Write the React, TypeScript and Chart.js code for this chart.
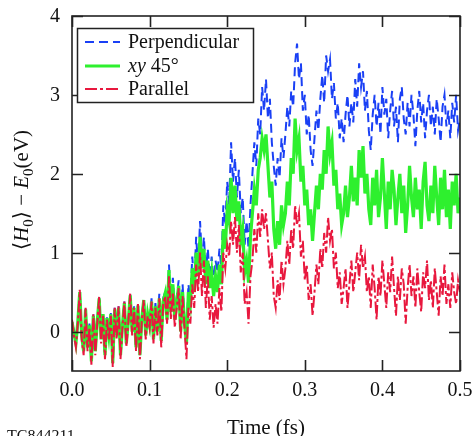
import React, { useEffect, useRef } from "react";
import { Chart, registerables } from "chart.js";

Chart.register(...registerables);

// ---------- data ----------
const TIMES = [
  0, 0.0025, 0.005, 0.0075, 0.01, 0.0125, 0.015, 0.0175, 0.02, 0.0225,
  0.025, 0.0275, 0.03, 0.0325, 0.035, 0.0375, 0.04, 0.0425, 0.045, 0.0475,
  0.05, 0.0525, 0.055, 0.0575, 0.06, 0.0625, 0.065, 0.0675, 0.07, 0.0725,
  0.075, 0.0775, 0.08, 0.0825, 0.085, 0.0875, 0.09, 0.0925, 0.095, 0.0975,
  0.1, 0.1025, 0.105, 0.1075, 0.11, 0.1125, 0.115, 0.1175, 0.12, 0.1225,
  0.125, 0.1275, 0.13, 0.1325, 0.135, 0.1375, 0.14, 0.1425, 0.145, 0.1475,
  0.15, 0.1525, 0.155, 0.1575, 0.16, 0.1625, 0.165, 0.1675, 0.17, 0.1725,
  0.175, 0.1775, 0.18, 0.1825, 0.185, 0.1875, 0.19, 0.1925, 0.195, 0.1975,
  0.2, 0.2025, 0.205, 0.2075, 0.21, 0.2125, 0.215, 0.2175, 0.22, 0.2225,
  0.225, 0.2275, 0.23, 0.2325, 0.235, 0.2375, 0.24, 0.2425, 0.245, 0.2475,
  0.25, 0.2525, 0.255, 0.2575, 0.26, 0.2625, 0.265, 0.2675, 0.27, 0.2725,
  0.275, 0.2775, 0.28, 0.2825, 0.285, 0.2875, 0.29, 0.2925, 0.295, 0.2975,
  0.3, 0.3025, 0.305, 0.3075, 0.31, 0.3125, 0.315, 0.3175, 0.32, 0.3225,
  0.325, 0.3275, 0.33, 0.3325, 0.335, 0.3375, 0.34, 0.3425, 0.345, 0.3475,
  0.35, 0.3525, 0.355, 0.3575, 0.36, 0.3625, 0.365, 0.3675, 0.37, 0.3725,
  0.375, 0.3775, 0.38, 0.3825, 0.385, 0.3875, 0.39, 0.3925, 0.395, 0.3975,
  0.4, 0.4025, 0.405, 0.4075, 0.41, 0.4125, 0.415, 0.4175, 0.42, 0.4225,
  0.425, 0.4275, 0.43, 0.4325, 0.435, 0.4375, 0.44, 0.4425, 0.445, 0.4475,
  0.45, 0.4525, 0.455, 0.4575, 0.46, 0.4625, 0.465, 0.4675, 0.47, 0.4725,
  0.475, 0.4775, 0.48, 0.4825, 0.485, 0.4875, 0.49, 0.4925, 0.495, 0.4975,
  0.5,
];

const PERPENDICULAR = [
  0.13, 0.0, -0.12, 0.14, 0.5, -0.02, -0.22, 0.3, -0.18, 0.1,
  -0.35, 0.22, -0.22, 0.14, 0.43, -0.08, 0.24, -0.28, 0.18, -0.02,
  0.24, -0.38, 0.3, -0.02, 0.32, -0.28, 0.1, 0.38, -0.12, 0.14,
  0.47, 0.02, 0.32, -0.18, 0.35, -0.28, 0.19, 0.42, -0.02, 0.24,
  0.1, 0.42, -0.05, 0.36, 0.05, 0.48, -0.05, 0.42,
  0.5, 0.2, 0.85, 0.3, 0.68, 0.2, 0.45, 0.65, 0.05, 0.6, 0.15, -0.1, 0.6, 0.4,
  0.95, 0.6, 1.2, 0.8, 1.4, 0.9, 1.2, 0.75, 1.05, 0.7, 0.95, 0.6, 0.9, 0.75, 1.05, 0.8, 1.6, 1.35, 1.9,
  1.6, 2.4, 1.9, 2.2, 1.7, 2.05, 1.5, 1.7, 1.1, 1.4, 1.05, 1.6, 2.0, 2.4, 2.1, 2.7, 2.5, 3.1, 2.8, 3.2,
  2.7, 2.95, 2.4, 2.1, 1.85, 2.2, 1.95, 2.45, 2.2, 2.5, 2.85, 2.6, 3.05, 2.85, 3.4, 3.65, 3.2, 3.4, 2.8, 3.0,
  2.5, 2.75, 2.3, 2.1, 2.45, 2.8, 2.55, 2.95, 3.25, 2.9, 3.5, 3.3, 3.45, 2.95, 3.15, 2.7, 2.9, 2.45, 2.7, 2.4,
  2.75, 3.0, 2.6, 2.9, 2.65, 3.2, 2.85, 3.4, 3.1, 3.3, 2.8, 3.05, 2.55, 2.3, 2.75, 3.0, 2.6, 2.9, 2.5, 3.1,
  2.75, 2.95, 2.45, 2.8, 3.05, 2.6, 2.85, 2.4, 2.95, 3.1, 2.7, 2.5, 2.9, 2.6, 3.0, 2.75, 2.35, 2.8, 3.05, 2.65,
  2.9, 2.45, 2.8, 3.0, 2.6, 2.85, 2.5, 2.95, 2.7, 2.4, 2.85, 3.0, 2.6, 2.8, 2.45, 2.9, 2.65, 3.0, 2.55, 2.7,
];

const XY45 = [
  0.12, -0.02, -0.15, 0.12, 0.5, -0.05, -0.25, 0.28, -0.2, 0.08,
  -0.38, 0.2, -0.25, 0.12, 0.42, -0.1, 0.22, -0.3, 0.17, -0.05,
  0.22, -0.4, 0.28, -0.05, 0.3, -0.3, 0.08, 0.36, -0.15, 0.12,
  0.46, 0.0, 0.3, -0.2, 0.33, -0.3, 0.17, 0.4, -0.05, 0.22,
  0.08, 0.38, -0.1, 0.32, 0.0, 0.42, -0.12, 0.38,
  0.48, 0.15, 0.78, 0.25, 0.6, 0.15, 0.38, 0.58, 0.0, 0.5, 0.1, -0.15, 0.5, 0.35,
  0.8, 0.5, 1.0, 0.7, 1.2, 0.8, 1.05, 0.6, 0.9, 0.55, 0.75, 0.45, 0.7, 0.5, 0.85, 0.6, 1.3, 1.05, 1.55,
  1.4, 1.95, 1.5, 1.85, 1.4, 1.65, 1.15, 1.3, 0.75, 0.9, 0.62, 1.2, 1.5, 1.8, 1.6, 2.05, 2.2, 2.45, 2.3, 2.5,
  2.1, 1.7, 1.9, 1.3, 1.05, 1.4, 1.1, 1.6, 1.35, 1.5, 1.9, 1.6, 2.2, 2.0, 2.7, 2.3, 2.45, 1.9, 2.1, 1.6,
  1.8, 1.35, 1.55, 1.15, 1.5, 1.85, 1.55, 2.0, 1.8, 2.3, 2.0, 2.6, 2.25, 2.4, 1.85, 2.05, 1.55, 1.75, 1.35, 1.5,
  1.85, 1.45, 1.7, 2.1, 1.65, 1.95, 1.6, 2.3, 1.95, 2.35, 1.75, 2.0, 1.55, 1.35, 1.95, 1.6, 2.05, 1.45, 1.7, 2.2,
  1.75, 1.3, 1.9, 1.55, 2.05, 1.8, 1.35, 1.7, 2.0, 1.5, 1.85, 1.25, 1.6, 2.1, 1.7, 1.45, 1.95, 1.55, 1.8, 1.3,
  1.9, 2.15, 1.6, 1.4, 1.85, 1.5, 2.1, 1.7, 1.35, 1.95, 1.55, 2.05, 1.45, 1.8, 1.3, 1.9, 1.6, 2.0, 1.5, 1.7,
];

const PARALLEL = [
  0.15, -0.05, -0.2, 0.1, 0.53, -0.1, -0.3, 0.3, -0.25, 0.05,
  -0.42, 0.22, -0.3, 0.1, 0.44, -0.15, 0.2, -0.35, 0.15, -0.1,
  0.2, -0.45, 0.3, -0.1, 0.32, -0.35, 0.05, 0.38, -0.2, 0.1,
  0.48, -0.05, 0.3, -0.25, 0.35, -0.35, 0.15, 0.4, -0.1, 0.2,
  0.05, 0.38, -0.15, 0.3, -0.05, 0.42, -0.2, 0.35,
  0.45, 0.1, 0.7, 0.15, 0.5, 0.05, 0.3, 0.55, -0.1, 0.45, 0.05, -0.35, 0.3, 0.1,
  0.6, 0.3, 0.85, 0.5, 1.0, 0.45, 0.9, 0.3, 0.7, 0.15, 0.45, 0.05, 0.35, 0.1, 0.55, 0.25, 1.0, 0.8, 1.1,
  0.95, 1.4, 1.1, 1.45, 1.0, 1.35, 0.75, 1.0, 0.35, 0.5, 0.1, 0.7, 0.9, 1.3, 1.0, 1.5, 1.2, 1.55, 1.3, 1.5,
  1.15, 0.8, 1.0, 0.45, 0.3, 0.65, 0.4, 0.9, 0.6, 0.8, 1.15, 0.85, 1.3, 1.05, 1.6, 1.35, 1.5, 0.95, 1.15, 0.65,
  0.85, 0.4, 0.6, 0.2, 0.5, 0.85, 0.6, 1.05, 0.8, 1.25, 1.0, 1.45, 1.15, 1.3, 0.8, 1.0, 0.55, 0.75, 0.35, 0.55,
  0.8, 0.3, 0.6, 0.9, 0.5, 0.75, 1.0, 0.65, 1.1, 0.8, 0.95, 0.5, 0.7, 0.3, 0.85, 0.55, 0.15, 0.7, 0.45, 0.9,
  0.6, 0.3, 0.75, 0.5, 0.95, 0.55, 0.2, 0.7, 0.4, 0.8, 0.6, 0.1, 0.55, 0.85, 0.45, 0.7, 0.3, 0.8, 0.5, 0.25,
  0.75, 0.55, 0.9, 0.4, 0.65, 0.3, 0.8, 0.5, 0.2, 0.7, 0.45, 0.85, 0.35, 0.6, 0.3, 0.75, 0.5, 0.35, 0.65, 0.5,
];

const X_TICKS = [0, 0.1, 0.2, 0.3, 0.4, 0.5];
const Y_TICKS = [0, 1, 2, 3, 4];
const X_MIN = 0;
const X_MAX = 0.5;
const Y_MIN = -0.5;
const Y_MAX = 4;

const BLUE = "#1a40f5";
const GREEN = "#2ef02e";
const RED = "#e8183e";
const SERIF = '"Liberation Serif", "Times New Roman", "DejaVu Serif", serif';

const BLUE_DASH = [9, 5];
const RED_DASH = [12, 3, 3, 3];

function decoPlugin() {
  return {
    id: "deco",
    afterDraw(chart: any) {
      const { ctx, chartArea: a, scales } = chart;
      const xs = scales.x;
      const ys = scales.y;
      ctx.save();

      // frame
      ctx.strokeStyle = "#222";
      ctx.lineWidth = 1.6;
      ctx.setLineDash([]);
      ctx.strokeRect(a.left, a.top, a.right - a.left, a.bottom - a.top);

      // inward ticks on all four sides
      const tl = 11;
      ctx.beginPath();
      xs.ticks.forEach((t: any) => {
        const px = Math.round(xs.getPixelForValue(t.value)) + 0.5;
        ctx.moveTo(px, a.bottom);
        ctx.lineTo(px, a.bottom - tl);
        ctx.moveTo(px, a.top);
        ctx.lineTo(px, a.top + tl);
      });
      ys.ticks.forEach((t: any) => {
        const py = Math.round(ys.getPixelForValue(t.value)) + 0.5;
        ctx.moveTo(a.left, py);
        ctx.lineTo(a.left + tl, py);
        ctx.moveTo(a.right, py);
        ctx.lineTo(a.right - tl, py);
      });
      ctx.stroke();

      // tick labels
      ctx.fillStyle = "#111";
      ctx.font = `20px ${SERIF}`;
      ctx.textAlign = "center";
      ctx.textBaseline = "middle";
      xs.ticks.forEach((t: any) => {
        const px = xs.getPixelForValue(t.value);
        ctx.fillText(Number(t.value).toFixed(1), px, 391);
      });
      ctx.textAlign = "right";
      ys.ticks.forEach((t: any) => {
        const py = ys.getPixelForValue(t.value);
        ctx.fillText(String(t.value), a.left - 12, py + 1);
      });

      // x title
      ctx.font = `21px ${SERIF}`;
      ctx.textAlign = "center";
      ctx.textBaseline = "alphabetic";
      ctx.fillText("Time (fs)", (a.left + a.right) / 2, 434);

      // y title (rotated, with italics and subscripts)
      const big = 21;
      const small = 15;
      const parts = [
        { t: "\u27E8", f: `${big}px ${SERIF}`, dy: 0 },
        { t: "H", f: `italic ${big}px ${SERIF}`, dy: 0 },
        { t: "0", f: `${small}px ${SERIF}`, dy: 5 },
        { t: "\u27E9", f: `${big}px ${SERIF}`, dy: 0 },
        { t: " \u2212 ", f: `${big}px ${SERIF}`, dy: 0 },
        { t: "E", f: `italic ${big}px ${SERIF}`, dy: 0 },
        { t: "0", f: `${small}px ${SERIF}`, dy: 5 },
        { t: "(eV)", f: `${big}px ${SERIF}`, dy: 0 },
      ];
      let total = 0;
      parts.forEach((p) => {
        ctx.font = p.f;
        total += ctx.measureText(p.t).width;
      });
      ctx.save();
      ctx.translate(28, 190);
      ctx.rotate(-Math.PI / 2);
      ctx.textAlign = "left";
      ctx.textBaseline = "alphabetic";
      let cx = -total / 2;
      parts.forEach((p) => {
        ctx.font = p.f;
        ctx.fillText(p.t, cx, p.dy);
        cx += ctx.measureText(p.t).width;
      });
      ctx.restore();

      // legend
      const lx = 77.5;
      const ly = 28.5;
      const lw = 176;
      const lh = 74;
      ctx.fillStyle = "#fff";
      ctx.fillRect(lx, ly, lw, lh);
      ctx.strokeStyle = "#222";
      ctx.lineWidth = 1.5;
      ctx.strokeRect(lx, ly, lw, lh);
      const rows = [
        { y: 42, color: BLUE, dash: BLUE_DASH, w: 2, label: [{ t: "Perpendicular", it: false }] },
        { y: 66, color: GREEN, dash: [], w: 3.2, label: [{ t: "xy", it: true }, { t: " 45\u00B0", it: false }] },
        { y: 89, color: RED, dash: RED_DASH, w: 2, label: [{ t: "Parallel", it: false }] },
      ];
      rows.forEach((r) => {
        ctx.strokeStyle = r.color;
        ctx.lineWidth = r.w;
        ctx.setLineDash(r.dash);
        ctx.beginPath();
        ctx.moveTo(85, r.y);
        ctx.lineTo(120, r.y);
        ctx.stroke();
        ctx.setLineDash([]);
        ctx.fillStyle = "#111";
        ctx.textAlign = "left";
        ctx.textBaseline = "middle";
        let tx = 128;
        r.label.forEach((s) => {
          ctx.font = `${s.it ? "italic " : ""}20px ${SERIF}`;
          ctx.fillText(s.t, tx, r.y + 1);
          tx += ctx.measureText(s.t).width;
        });
      });

      // figure id at bottom-left (cut by the edge)
      ctx.fillStyle = "#111";
      ctx.font = `16px ${SERIF}`;
      ctx.textAlign = "left";
      ctx.textBaseline = "alphabetic";
      ctx.fillText("TC844211", 7, 441);

      ctx.restore();
    },
  };
}

export default function App() {
  const ref = useRef<HTMLCanvasElement | null>(null);

  useEffect(() => {
    if (!ref.current) return;
    const toPts = (arr: number[]) => TIMES.map((t, i) => ({ x: t, y: arr[i] }));
    const chart = new Chart(ref.current, {
      type: "line",
      data: {
        datasets: [
          {
            label: "Parallel",
            data: toPts(PARALLEL),
            borderColor: RED,
            borderWidth: 2,
            borderDash: RED_DASH,
            pointRadius: 0,
            tension: 0,
            fill: false,
            order: 0,
          },
          {
            label: "xy 45°",
            data: toPts(XY45),
            borderColor: GREEN,
            borderWidth: 3.2,
            pointRadius: 0,
            tension: 0,
            fill: false,
            order: 1,
          },
          {
            label: "Perpendicular",
            data: toPts(PERPENDICULAR),
            borderColor: BLUE,
            borderWidth: 2,
            borderDash: BLUE_DASH,
            pointRadius: 0,
            tension: 0,
            fill: false,
            order: 2,
          },
        ],
      },
      options: {
        responsive: false,
        animation: false,
        devicePixelRatio: 1,
        events: [],
        layout: { padding: { left: 0, right: 14, top: 16, bottom: 0 } },
        plugins: { legend: { display: false }, tooltip: { enabled: false } },
        scales: {
          x: {
            type: "linear",
            min: X_MIN,
            max: X_MAX,
            grid: { display: false },
            border: { display: false },
            ticks: { display: false },
            afterBuildTicks: (s: any) => {
              s.ticks = X_TICKS.map((value) => ({ value }));
            },
            afterFit: (s: any) => {
              s.height = 65;
            },
          },
          y: {
            type: "linear",
            min: Y_MIN,
            max: Y_MAX,
            grid: { display: false },
            border: { display: false },
            ticks: { display: false },
            afterBuildTicks: (s: any) => {
              s.ticks = Y_TICKS.map((value) => ({ value }));
            },
            afterFit: (s: any) => {
              s.width = 72;
            },
          },
        },
      } as any,
      plugins: [decoPlugin()],
    });
    return () => chart.destroy();
  }, []);

  return (
    <div style={{ position: "fixed", left: 0, top: 0, width: 474, height: 436, background: "#fff" }}>
      <canvas ref={ref} width={474} height={436} style={{ display: "block" }} />
    </div>
  );
}
